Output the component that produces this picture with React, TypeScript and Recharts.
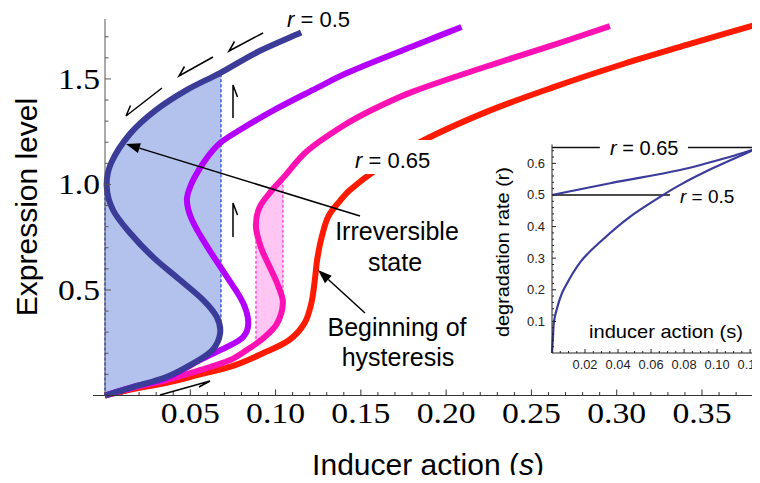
import { ComposedChart, LineChart, Line, Area, XAxis, YAxis } from "recharts";

// main diagram, points are [inducer action s, expression level]
const curveBlue = [
  [0, 0], [0.0164, 0.04], [0.036, 0.088], [0.052, 0.154], [0.063, 0.216], [0.0675, 0.296],
  [0.0655, 0.372], [0.0576, 0.452], [0.044, 0.547], [0.028, 0.657], [0.0147, 0.77], [0.0047, 0.879],
  [0.001, 0.99], [0.0035, 1.1], [0.0147, 1.24], [0.03, 1.353], [0.048, 1.448], [0.0674, 1.528],
  [0.09, 1.63], [0.115, 1.72],
];
const curvePurple = [
  [0, 0], [0.016, 0.04], [0.036, 0.083], [0.0557, 0.168], [0.0715, 0.23], [0.081, 0.277],
  [0.084, 0.343], [0.081, 0.438], [0.0715, 0.562], [0.06, 0.704], [0.051, 0.832], [0.048, 0.926],
  [0.0505, 1.0], [0.0555, 1.075], [0.0615, 1.145], [0.068, 1.2], [0.079, 1.258], [0.0985, 1.35],
  [0.122, 1.448], [0.1418, 1.528], [0.1805, 1.655], [0.209, 1.746],
];
const curveMagenta = [
  [0, 0], [0.0164, 0.036], [0.036, 0.073], [0.0557, 0.12], [0.0733, 0.168], [0.083, 0.215],
  [0.0926, 0.27], [0.1008, 0.34], [0.1043, 0.44], [0.1015, 0.52], [0.0965, 0.61], [0.0915, 0.7],
  [0.0885, 0.8], [0.0905, 0.89], [0.098, 0.974], [0.1043, 1.03], [0.118, 1.155], [0.138, 1.27],
  [0.157, 1.355], [0.1805, 1.44], [0.224, 1.56], [0.2626, 1.66], [0.296, 1.75],
];
const curveRed = [
  [0, 0], [0.0164, 0.03], [0.036, 0.06], [0.0557, 0.1], [0.075, 0.14], [0.0926, 0.2],
  [0.108, 0.263], [0.117, 0.343], [0.121, 0.438], [0.123, 0.547], [0.1245, 0.65], [0.127, 0.75],
  [0.131, 0.85], [0.138, 0.925], [0.1436, 0.974], [0.159, 1.07], [0.1846, 1.2], [0.224, 1.345],
  [0.2626, 1.46], [0.302, 1.566], [0.341, 1.661], [0.381, 1.756],
];

// hysteresis regions (between lower and upper stable branch)
const blueFillS = [0, 0.004, 0.01, 0.02, 0.03, 0.04, 0.05, 0.06, 0.065, 0.068];
const blueFillLow = [0, 0.01, 0.024, 0.048, 0.073, 0.1, 0.145, 0.198, 0.24, 0.3];
const blueFillHigh = [1.0, 1.12, 1.19, 1.285, 1.353, 1.405, 1.457, 1.5, 1.518, 1.53];
const pinkFillS = [0.0885, 0.0905, 0.0926, 0.095, 0.098, 0.1008, 0.1043];
const pinkFillLow = [0.245, 0.257, 0.27, 0.29, 0.315, 0.34, 0.44];
const pinkFillHigh = [0.8, 0.89, 0.92, 0.945, 0.974, 0.995, 1.03];

const blueDashLeft = [[0, 0], [0, 1.0]];
const blueDashRight = [[0.068, 0.3], [0.068, 1.53]];
const pinkDashLeft = [[0.0885, 0.245], [0.0885, 0.8]];
const pinkDashRight = [[0.1043, 0.44], [0.1043, 1.03]];

// inset: [inducer action s, degradation rate r]
const insetLower = [
  [0, 0], [0.0006, 0.05], [0.0012, 0.1], [0.0035, 0.15], [0.007, 0.2], [0.0175, 0.29],
  [0.031, 0.36], [0.047, 0.43], [0.0655, 0.494], [0.0776, 0.532], [0.0976, 0.585],
  [0.118, 0.633], [0.1255, 0.65],
];
const insetUpper = [[0, 0.5], [0.037, 0.539], [0.0776, 0.579], [0.108, 0.621], [0.1255, 0.65]];
const levelHighA = [[0, 0.65], [0.029, 0.65]];
const levelHighB = [[0.0824, 0.65], [0.126, 0.65]];
const levelLow = [[0, 0.5], [0.0715, 0.5]];

const mainXTicks = Array.from({ length: 38 }, (_, i) => +((i + 1) * 0.01).toFixed(2));
const mainYTicks = Array.from({ length: 17 }, (_, i) => +((i + 1) * 0.1).toFixed(1));
const insetXTicks = Array.from({ length: 25 }, (_, i) => +((i + 1) * 0.005).toFixed(3));
const insetYTicks = Array.from({ length: 32 }, (_, i) => +((i + 1) * 0.02).toFixed(2));

const pts = (a: number[][]) => a.map(([s, y]) => ({ s, y }));
const band = (s: number[], lo: number[], hi: number[]) => s.map((v, i) => ({ s: v, range: [lo[i], hi[i]] }));

const SANS = "'Liberation Sans', Arial, sans-serif";
const SERIF = "'Liberation Serif', 'Times New Roman', serif";

// chord-length catmull-rom, so the S-shaped (non monotone in x) curves stay smooth
const smoothCurve = (context: any) => {
  let p: number[][] = [];
  return {
    areaStart() {},
    areaEnd() {},
    lineStart() { p = []; },
    point(x: number, y: number) { p.push([x, y]); },
    lineEnd() {
      if (!p.length) return;
      context.moveTo(p[0][0], p[0][1]);
      const d = (a: number[], b: number[]) => Math.hypot(b[0] - a[0], b[1] - a[1]) || 1e-6;
      const tan = (i: number) => {
        const a = p[Math.max(i - 1, 0)];
        const b = p[Math.min(i + 1, p.length - 1)];
        const len = (i > 0 ? d(p[i - 1], p[i]) : 0) + (i < p.length - 1 ? d(p[i], p[i + 1]) : 0);
        return [(b[0] - a[0]) / len, (b[1] - a[1]) / len];
      };
      for (let i = 0; i < p.length - 1; i++) {
        const h = d(p[i], p[i + 1]) / 3;
        const m1 = tan(i), m2 = tan(i + 1);
        context.bezierCurveTo(
          p[i][0] + m1[0] * h, p[i][1] + m1[1] * h,
          p[i + 1][0] - m2[0] * h, p[i + 1][1] - m2[1] * h,
          p[i + 1][0], p[i + 1][1],
        );
      }
    },
  };
};

const MainXTick = (props: any) => {
  const { x, payload } = props;
  const v = payload.value;
  const major = Math.round(v * 100) % 5 === 0;
  return (
    <g>
      <line x1={x} x2={x} y1={395.5} y2={major ? 389.5 : 392} stroke="#333" />
      {major && (
        <text x={x} y={423} textAnchor="middle" fontFamily={SERIF} fontSize={29} fill="#000"
          textLength={59} lengthAdjust="spacingAndGlyphs">{v.toFixed(2)}</text>
      )}
    </g>
  );
};

const MainYTick = (props: any) => {
  const { y, payload } = props;
  const v = payload.value;
  const major = Math.round(v * 10) % 5 === 0;
  return (
    <g>
      <line x1={105} x2={major ? 111 : 108.5} y1={y} y2={y} stroke="#555" />
      {major && (
        <text x={100} y={y + 10} textAnchor="end" fontFamily={SERIF} fontSize={29} fill="#000"
          textLength={42} lengthAdjust="spacingAndGlyphs">{v.toFixed(1)}</text>
      )}
    </g>
  );
};

const InsetXTick = (props: any) => {
  const { x, payload } = props;
  const v = payload.value;
  const major = Math.round(v * 1000) % 20 === 0;
  return (
    <g>
      <line x1={x} x2={x} y1={223} y2={major ? 219 : 221} stroke="#222" />
      {major && (
        <text x={x} y={239} textAnchor="middle" fontFamily={SANS} fontSize={12} fill="#222"
          textLength={25} lengthAdjust="spacingAndGlyphs">{v.toFixed(2)}</text>
      )}
    </g>
  );
};

const InsetYTick = (props: any) => {
  const { y, payload } = props;
  const v = payload.value;
  const major = Math.round(v * 100) % 10 === 0;
  return (
    <g>
      <line x1={112} x2={major ? 116 : 114} y1={y} y2={y} stroke="#222" />
      {major && (
        <text x={105} y={y + 4.5} textAnchor="end" fontFamily={SANS} fontSize={12} fill="#222"
          textLength={18} lengthAdjust="spacingAndGlyphs">{v.toFixed(1)}</text>
      )}
    </g>
  );
};

const Arrow = ({ from, to }: { from: number[]; to: number[] }) => {
  const dx = to[0] - from[0];
  const dy = to[1] - from[1];
  const len = Math.hypot(dx, dy);
  const ux = dx / len, uy = dy / len;
  const bx = to[0] - ux * 14, by = to[1] - uy * 14;
  const head = `${to[0]},${to[1]} ${bx - uy * 5},${by + ux * 5} ${bx + uy * 5},${by - ux * 5}`;
  return (
    <g>
      <line x1={from[0]} y1={from[1]} x2={bx} y2={by} stroke="#000" strokeWidth={1.5} />
      <polygon points={head} fill="#000" />
    </g>
  );
};

const Harpoon = ({ p }: { p: number[][] }) => (
  <polyline points={p.map((q) => q.join(",")).join(" ")} fill="none" stroke="#000" strokeWidth={1.5} />
);

const Overlay = () => (
  <svg width={760} height={483} style={{ position: "absolute", left: 0, top: 0, pointerEvents: "none" }}>
    <line x1={93} x2={105} y1={395.5} y2={395.5} stroke="#333" />
    <rect x={350} y={140} width={88} height={34} fill="#fff" />
    <text x={355} y={168} fontFamily={SANS} fontSize={22}>
      <tspan fontStyle="italic">r</tspan> = 0.65
    </text>
    <text x={287} y={27} fontFamily={SANS} fontSize={22}>
      <tspan fontStyle="italic">r</tspan> = 0.5
    </text>

    <Harpoon p={[[162, 88], [126, 116], [130.5, 105.5]]} />
    <Harpoon p={[[213, 57], [179, 76], [184.5, 66.5]]} />
    <Harpoon p={[[263, 33], [229, 51], [234.5, 41.5]]} />
    <Harpoon p={[[233, 118], [233, 85], [237.5, 97]]} />
    <Harpoon p={[[233, 237], [233, 203], [237.5, 215]]} />
    <Harpoon p={[[160, 395], [210, 381], [199, 387]]} />

    <Arrow from={[360, 216]} to={[126, 144]} />
    <Arrow from={[365, 313]} to={[318, 270]} />

    <g fontFamily={SANS} fontSize={25} textAnchor="middle" fill="#000">
      <text x={397} y={240}>Irreversible</text>
      <text x={395} y={271}>state</text>
      <text x={397} y={336}>Beginning of</text>
      <text x={398} y={366}>hysteresis</text>
    </g>

    <text transform="translate(37,207) rotate(-90)" textAnchor="middle" fontFamily={SANS} fontSize={30}>
      Expression level
    </text>
    <text x={428} y={475} textAnchor="middle" fontFamily={SANS} fontSize={30}>
      Inducer action (<tspan fontStyle="italic">s</tspan>)
    </text>

    <text x={610} y={155} fontFamily={SANS} fontSize={20}>
      <tspan fontStyle="italic">r</tspan> = 0.65
    </text>
    <text x={680} y={203} fontFamily={SANS} fontSize={19}>
      <tspan fontStyle="italic">r</tspan> = 0.5
    </text>
    <text transform="translate(509,252) rotate(-90)" textAnchor="middle" fontFamily={SANS} fontSize={19}
      textLength={170} lengthAdjust="spacingAndGlyphs">degradation rate (r)</text>
    <text x={666} y={338} textAnchor="middle" fontFamily={SANS} fontSize={19}
      textLength={154} lengthAdjust="spacingAndGlyphs">inducer action (s)</text>
  </svg>
);

const curveLine = (data: number[][], color: string, key: string, width = 6) => (
  <Line key={key} data={pts(data)} dataKey="y" type={smoothCurve as any} stroke={color} strokeWidth={width}
    strokeLinecap="butt" dot={false} activeDot={false} isAnimationActive={false} />
);

const dashLine = (data: number[][], color: string, key: string) => (
  <Line key={key} data={pts(data)} dataKey="y" type="linear" stroke={color} strokeWidth={1.3}
    strokeDasharray="3 2" dot={false} activeDot={false} isAnimationActive={false} />
);

const flatLine = (data: number[][], key: string) => (
  <Line key={key} data={pts(data)} dataKey="y" type="linear" stroke="#111" strokeWidth={1.6}
    dot={false} activeDot={false} isAnimationActive={false} />
);

export default function App() {
  return (
    <div style={{ position: "relative", width: 760, height: 483, margin: -8, background: "#fff" }}>
      <ComposedChart width={760} height={483} margin={{ top: 19, right: 0, bottom: 47.5, left: 0 }}>
        <XAxis type="number" dataKey="s" domain={[0, 0.384]} ticks={mainXTicks} interval={0}
          tickLine={false} axisLine={{ stroke: "#333" }} height={40} tick={<MainXTick />} />
        <YAxis type="number" domain={[0, 1.784]} ticks={mainYTicks} interval={0}
          tickLine={false} axisLine={{ stroke: "#555" }} width={105} tick={<MainYTick />} />
        <Area data={band(blueFillS, blueFillLow, blueFillHigh)} dataKey="range" type="linear"
          stroke="none" fill="#b3c2ec" fillOpacity={1} isAnimationActive={false} />
        <Area data={band(pinkFillS, pinkFillLow, pinkFillHigh)} dataKey="range" type="linear"
          stroke="none" fill="#ffc6f3" fillOpacity={1} isAnimationActive={false} />
        {dashLine(blueDashLeft, "#2943e8", "bdl")}
        {dashLine(blueDashRight, "#2943e8", "bdr")}
        {dashLine(pinkDashLeft, "#ff3cc8", "pdl")}
        {dashLine(pinkDashRight, "#ff3cc8", "pdr")}
        {curveLine(curveRed, "#ff1a00", "red")}
        {curveLine(curveMagenta, "#ff12b4", "magenta")}
        {curveLine(curvePurple, "#b400ff", "purple")}
        {curveLine(curveBlue, "#3b3b98", "blue")}
      </ComposedChart>

      <div style={{ position: "absolute", left: 440, top: 130 }}>
        <LineChart width={320} height={260} margin={{ top: 14.4, right: 0, bottom: 7, left: 52 }}>
          <XAxis type="number" dataKey="s" domain={[0, 0.126]} ticks={insetXTicks} interval={0}
            tickLine={false} axisLine={{ stroke: "#222" }} height={30} tick={<InsetXTick />} />
          <YAxis type="number" domain={[0, 0.66]} ticks={insetYTicks} interval={0}
            tickLine={false} axisLine={{ stroke: "#222" }} width={60} tick={<InsetYTick />} />
          {flatLine(levelHighA, "ha")}
          {flatLine(levelHighB, "hb")}
          {flatLine(levelLow, "lo")}
          {curveLine(insetLower, "#3b3b9c", "il", 2.2)}
          {curveLine(insetUpper, "#3b3b9c", "iu", 2.2)}
        </LineChart>
      </div>

      <Overlay />
    </div>
  );
}
